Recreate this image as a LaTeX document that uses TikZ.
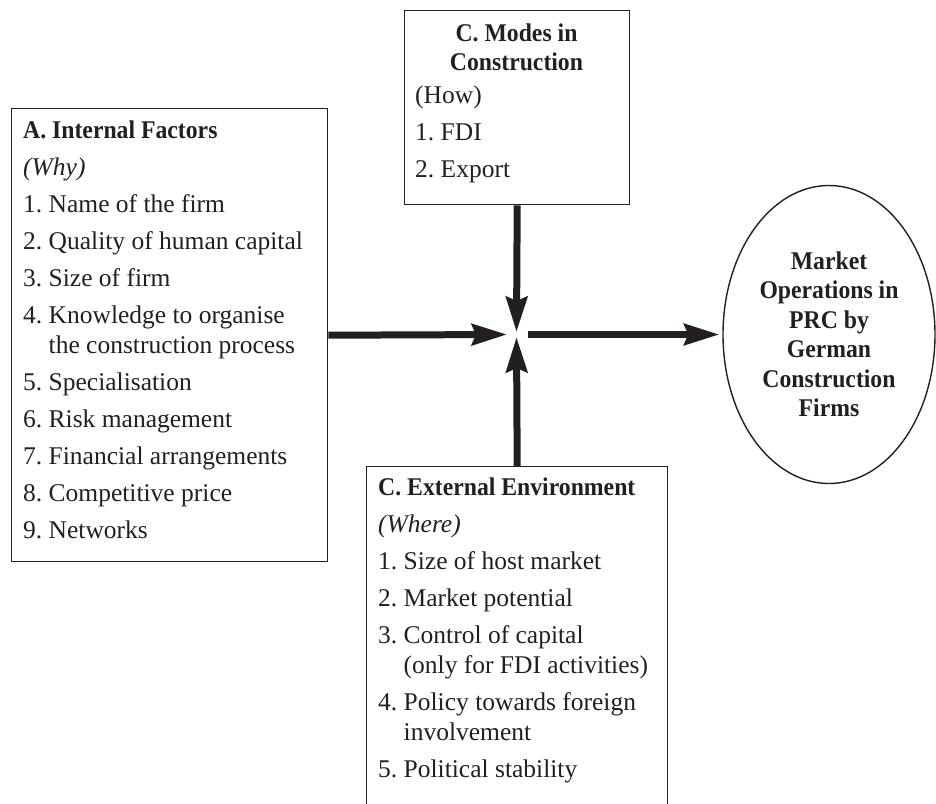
\documentclass[tikz,border=0pt]{standalone}
\usepackage{fontspec}
\setmainfont{Liberation Serif}[BoldFeatures={FakeStretch=0.93}]
\usetikzlibrary{arrows.meta,shapes.geometric}
\definecolor{ink}{HTML}{231F20}
\tikzset{
  factorbox/.style={draw=ink, line width=1.4pt, anchor=north west, inner sep=0pt},
  listtext/.style={anchor=base west, inner sep=0pt, text=ink, font=\fontsize{25.5}{30}\selectfont},
  flow/.style={draw=ink, line width=7pt, -{Stealth[length=35pt,width=21pt,inset=4pt]}}
}

\begin{document}
\begin{tikzpicture}[x=1pt,y=-1pt]
\clip (0,0) rectangle (936,803);

\node[factorbox, minimum width=316pt, minimum height=453pt] (internal) at (11,108) {};
\node[listtext] (internaltext) at (23,138) {\begin{tabular}[t]{@{}l@{\ }l@{}}
\multicolumn{2}{@{}l@{}}{\bfseries A. Internal Factors}\\[7pt]
\multicolumn{2}{@{}l@{}}{\itshape (Why)}\\[7pt]
1.&Name of the firm\\[7pt]
2.&Quality of human capital\\[7pt]
3.&Size of firm\\[7pt]
4.&Knowledge to organise\\
&the construction process\\[7pt]
5.&Specialisation\\[7pt]
6.&Risk management\\[7pt]
7.&Financial arrangements\\[7pt]
8.&Competitive price\\[7pt]
9.&Networks
\end{tabular}};

\node[factorbox, minimum width=225pt, minimum height=194pt] (modes) at (404,10) {};
\node[listtext, anchor=base, font=\bfseries\fontsize{25.5}{29}\selectfont] (modestitle) at (516.5,41) {\begin{tabular}[t]{@{}c@{}}
C. Modes in\\
Construction
\end{tabular}};
\node[listtext] (modestext) at (415,103) {\begin{tabular}[t]{@{}l@{\ }l@{}}
\multicolumn{2}{@{}l@{}}{(How)}\\[7pt]
1.&FDI\\[7pt]
2.&Export
\end{tabular}};

\node[factorbox, minimum width=301pt, minimum height=400pt] (extenv) at (366,466) {};
\node[listtext] (extenvtext) at (378,495) {\begin{tabular}[t]{@{}l@{\ }l@{}}
\multicolumn{2}{@{}l@{}}{\bfseries C. External Environment}\\[7pt]
\multicolumn{2}{@{}l@{}}{\itshape (Where)}\\[7pt]
1.&Size of host market\\[7pt]
2.&Market potential\\[7pt]
3.&Control of capital\\
&(only for FDI activities)\\[7pt]
4.&Policy towards foreign\\
&involvement\\[7pt]
5.&Political stability
\end{tabular}};

\node[draw=ink, line width=1.4pt, ellipse, minimum width=212pt, minimum height=298pt, inner sep=0pt,
  align=center, text=ink, font=\bfseries\fontsize{25.5}{29.5}\selectfont] (market) at (829,334.5)
  {Market\\Operations in\\PRC by\\German\\Construction\\Firms};

\coordinate (hubW) at (507,334.5);
\coordinate (hubE) at (528,334.5);
\coordinate (hubN) at (516.5,332);
\coordinate (hubS) at (516.5,337);

\draw[flow] (internal.east) -- (hubW);
\draw[flow] (modes.south) -- (hubN);
\draw[flow] (extenv.north) -- (hubS);
\draw[flow, shorten >=3pt] (hubE) -- (market.west);
\end{tikzpicture}
\end{document}
